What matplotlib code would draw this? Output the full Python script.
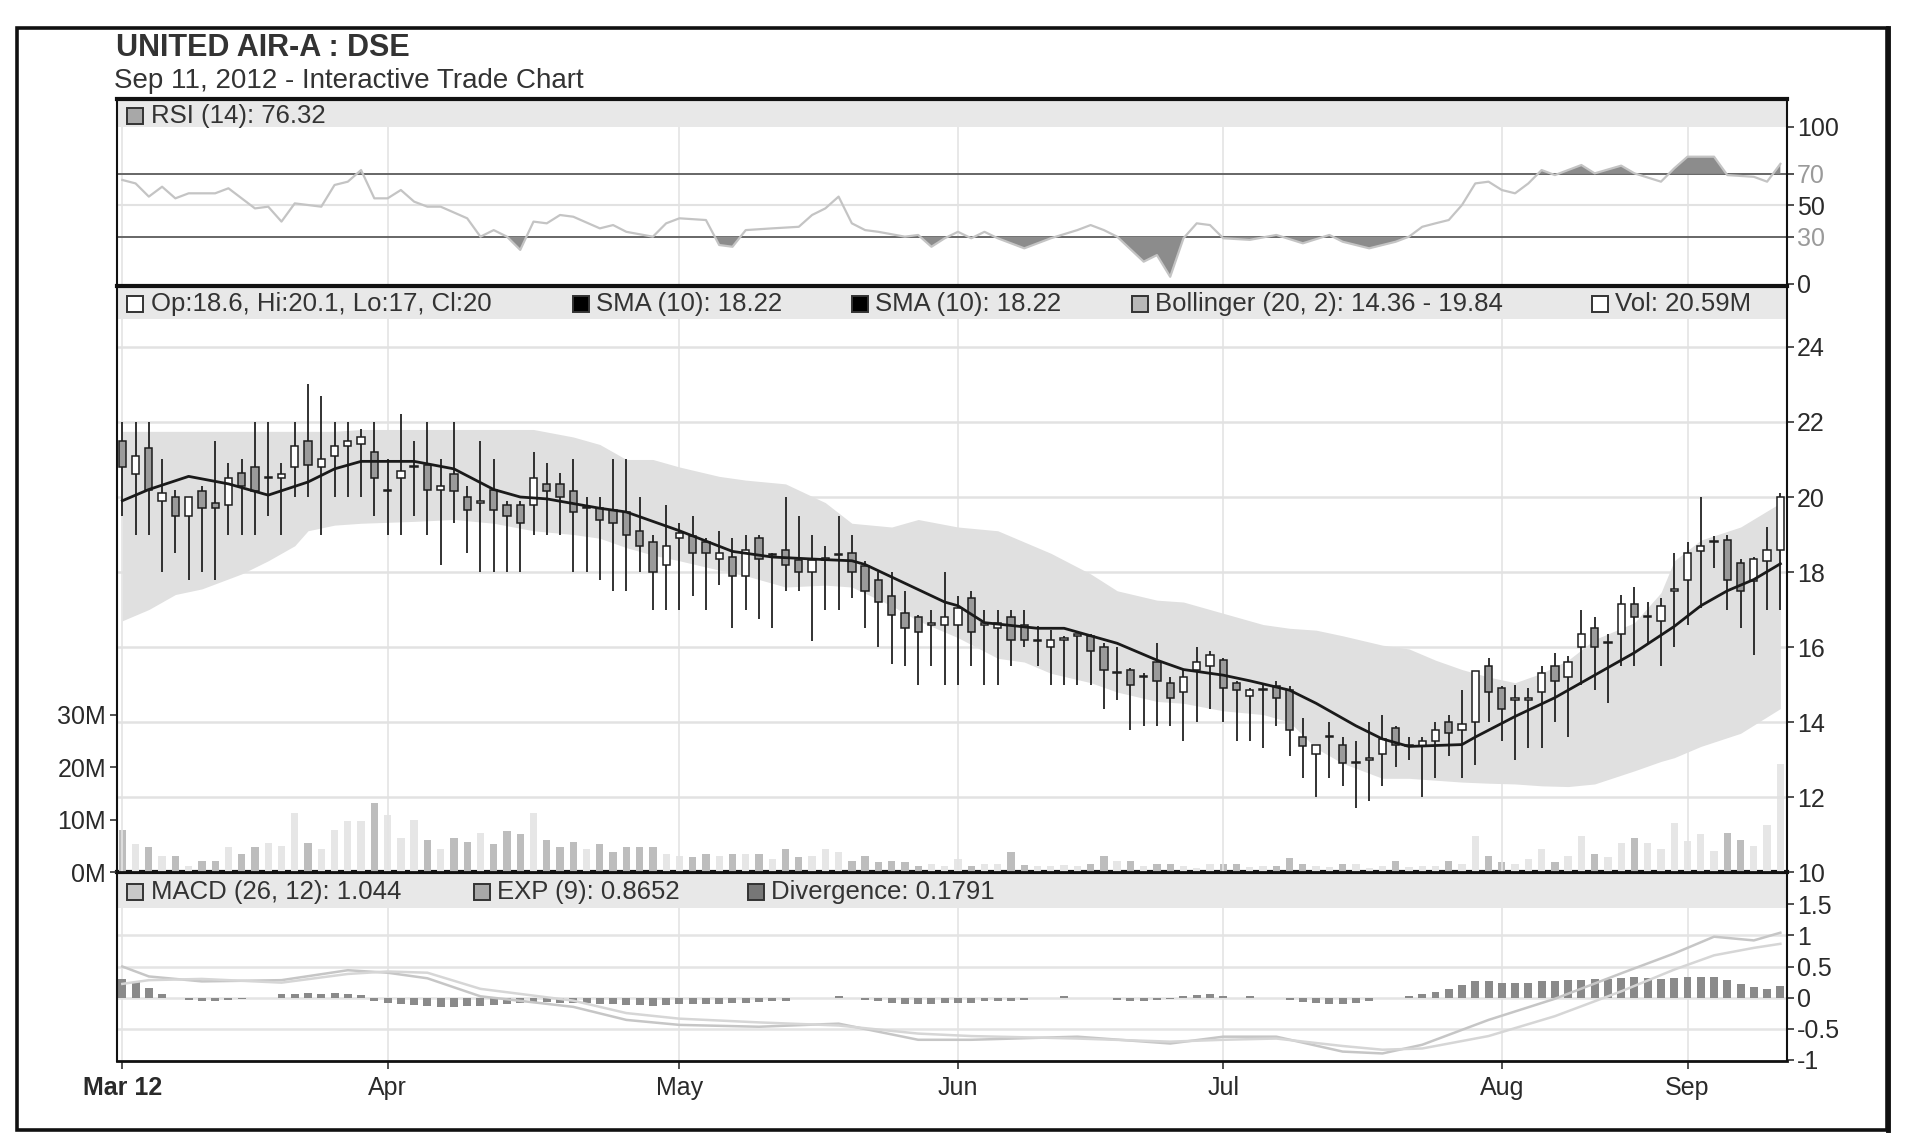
import numpy as np
import matplotlib
matplotlib.use('Agg')
import matplotlib.pyplot as plt
from matplotlib.patches import Rectangle
from matplotlib.lines import Line2D

plt.rcParams['font.family'] = ['Liberation Sans', 'DejaVu Sans']

# ---------------- data ----------------
opens = [21.5, 20.6, 21.3, 19.9, 20.0, 19.5, 20.15, 19.85, 19.8, 20.65,
         20.8, 20.5, 20.5, 20.8, 21.5, 20.8, 21.1, 21.35, 21.4, 21.2,
         20.15, 20.5, 20.8, 20.85, 20.2, 20.6, 20.0, 19.85, 20.2, 19.8,
         19.8, 19.8, 20.35, 20.35, 20.15, 19.7, 19.7, 19.65, 19.6, 19.1,
         18.8, 18.2, 18.9, 18.95, 18.8, 18.35, 18.4, 17.9, 18.9, 18.45,
         18.6, 18.33, 18.0, 18.33, 18.45, 18.5, 18.15, 17.8, 17.35, 16.9,
         16.8, 16.6, 16.6, 16.6, 17.3, 16.6, 16.5, 16.8, 16.6, 16.15,
         16.0, 16.2, 16.3, 16.3, 16.0, 15.3, 15.4, 15.2, 15.6, 15.05,
         14.8, 15.4, 15.5, 15.65, 15.05, 14.7, 14.85, 14.95, 14.85, 13.6,
         13.15, 13.6, 13.4, 12.9, 13.0, 13.15, 13.85, 13.35, 13.35, 13.5,
         14.0, 13.8, 14.0, 15.5, 14.9, 14.6, 14.6, 14.8, 15.5, 15.2,
         16.0, 16.5, 16.1, 16.35, 17.15, 16.8, 16.7, 17.5, 17.8, 18.55,
         18.8, 18.85, 18.25, 17.75, 18.3, 18.6]
highs = [22.0, 22.0, 22.0, 21.0, 20.2, 20.0, 20.3, 21.5, 20.9, 21.0,
         22.0, 22.0, 20.9, 22.0, 23.0, 22.7, 22.0, 22.0, 21.8, 22.0,
         21.0, 22.2, 21.5, 22.0, 21.0, 22.0, 20.3, 21.5, 21.0, 19.9,
         19.9, 21.2, 20.9, 20.65, 21.0, 20.0, 20.0, 21.0, 21.0, 20.0,
         19.0, 19.8, 19.3, 19.5, 18.9, 19.1, 18.9, 19.0, 19.0, 18.5,
         20.0, 19.5, 19.0, 18.7, 19.5, 19.0, 18.3, 18.0, 18.0, 17.5,
         16.85, 17.0, 18.0, 17.35, 17.5, 17.0, 17.0, 17.0, 17.0, 16.55,
         16.45, 16.3, 16.35, 16.35, 16.1, 16.0, 15.45, 15.3, 16.1, 15.2,
         15.4, 16.0, 15.9, 15.7, 15.1, 14.9, 15.0, 15.1, 14.95, 14.1,
         13.4, 14.0, 13.6, 13.5, 14.0, 14.2, 13.9, 13.6, 13.6, 14.0,
         14.2, 14.85, 15.35, 15.7, 14.95, 15.0, 14.9, 15.5, 15.85, 15.75,
         17.0, 16.8, 16.35, 17.4, 17.6, 17.2, 17.3, 18.5, 18.8, 20.0,
         18.95, 19.0, 18.35, 18.4, 19.2, 20.1]
lows = [19.5, 19.0, 19.0, 18.0, 18.5, 17.8, 18.0, 17.8, 19.0, 19.0,
        19.0, 19.5, 19.0, 20.0, 20.0, 19.0, 20.0, 20.0, 20.0, 19.5,
        19.0, 19.0, 19.5, 19.0, 18.2, 19.3, 18.5, 18.0, 18.0, 18.0,
        18.0, 19.0, 19.0, 19.0, 18.0, 18.0, 17.8, 17.5, 17.5, 18.0,
        17.0, 17.0, 17.0, 17.35, 17.0, 17.65, 16.5, 17.0, 16.75, 16.5,
        17.5, 17.5, 16.15, 17.0, 17.0, 17.3, 16.5, 16.0, 15.55, 15.5,
        15.0, 15.5, 15.0, 15.0, 15.5, 15.0, 15.0, 15.5, 16.0, 15.5,
        15.0, 15.0, 15.0, 15.0, 14.35, 14.6, 13.8, 13.9, 13.9, 13.9,
        13.5, 14.0, 14.35, 14.0, 13.5, 13.5, 13.3, 13.9, 13.1, 12.5,
        12.0, 12.5, 12.3, 11.7, 11.9, 12.3, 12.8, 13.0, 12.0, 12.5,
        13.1, 12.5, 12.85, 14.0, 13.5, 13.0, 13.3, 13.3, 14.0, 13.6,
        15.0, 14.85, 14.5, 15.5, 15.5, 16.1, 15.5, 16.0, 16.6, 17.05,
        18.1, 17.0, 16.5, 15.8, 17.0, 17.0]
closes = [20.8, 21.1, 20.2, 20.1, 19.5, 20.0, 19.7, 19.7, 20.5, 20.3,
          20.15, 20.5, 20.6, 21.35, 20.85, 21.0, 21.35, 21.5, 21.6, 20.5,
          20.15, 20.7, 20.8, 20.2, 20.3, 20.15, 19.65, 19.85, 19.65, 19.5,
          19.3, 20.5, 20.15, 20.0, 19.6, 19.7, 19.4, 19.3, 19.0, 18.7,
          18.0, 18.7, 19.05, 18.5, 18.5, 18.5, 17.9, 18.6, 18.35, 18.45,
          18.2, 18.0, 18.33, 18.33, 18.45, 18.0, 17.5, 17.2, 16.85, 16.5,
          16.4, 16.6, 16.8, 17.05, 16.4, 16.6, 16.65, 16.2, 16.2, 16.15,
          16.2, 16.2, 16.3, 15.9, 15.4, 15.3, 15.0, 15.2, 15.1, 14.65,
          15.2, 15.6, 15.8, 14.9, 14.85, 14.85, 14.85, 14.65, 13.8, 13.35,
          13.4, 13.6, 12.9, 12.9, 13.0, 13.55, 13.4, 13.35, 13.5, 13.8,
          13.7, 13.95, 15.35, 14.8, 14.35, 14.6, 14.6, 15.3, 15.1, 15.6,
          16.35, 16.0, 16.1, 17.15, 16.8, 16.8, 17.1, 17.5, 18.5, 18.7,
          18.8, 17.8, 17.5, 18.35, 18.6, 20.0]
volume_m = [8.1, 5.3, 4.7, 3.1, 3.1, 1.2, 2.2, 2.2, 4.7, 3.4,
            4.7, 5.6, 5.0, 11.2, 5.6, 4.4, 8.1, 9.7, 9.7, 13.1,
            10.9, 6.6, 10.0, 6.2, 4.4, 6.6, 5.7, 7.5, 5.3, 7.8,
            7.3, 11.2, 6.2, 4.7, 5.7, 4.4, 5.3, 3.9, 4.7, 4.7,
            4.7, 3.4, 3.1, 2.8, 3.4, 3.1, 3.4, 3.4, 3.4, 2.5,
            4.4, 2.8, 3.1, 4.4, 3.8, 2.2, 3.1, 1.9, 2.2, 1.9,
            1.2, 1.6, 1.2, 2.5, 1.2, 1.6, 1.6, 3.8, 1.4, 1.2,
            1.2, 1.4, 1.2, 1.6, 3.1, 2.2, 2.2, 1.2, 1.6, 1.6,
            1.2, 0.8, 1.6, 1.6, 1.6, 1.0, 1.2, 1.2, 2.6, 1.6,
            1.2, 1.0, 1.6, 1.6, 0.8, 1.2, 2.2, 1.0, 1.2, 1.2,
            2.2, 1.6, 6.9, 3.1, 1.9, 1.6, 2.5, 4.4, 2.0, 3.0,
            6.9, 3.4, 2.8, 5.5, 6.6, 5.6, 4.5, 9.4, 6.0, 7.2,
            4.0, 7.5, 6.2, 5.0, 9.0, 20.6]

sma_day = [0, 2, 5, 8, 11, 14, 16, 18, 22, 25, 28, 30, 32, 36, 38, 42, 46, 49,
           53, 55, 56, 59, 62, 63, 65, 69, 71, 73, 75, 78, 80, 83, 85, 88, 90,
           93, 95, 97, 101, 102, 105, 108, 111, 114, 117, 119, 121, 123, 125]
sma_val = [19.9, 20.2, 20.55, 20.35, 20.05, 20.4, 20.75, 20.95, 20.95, 20.75,
           20.2, 20.0, 19.95, 19.7, 19.6, 19.1, 18.55, 18.4, 18.33, 18.3, 18.2,
           17.7, 17.2, 17.1, 16.65, 16.5, 16.5, 16.3, 16.1, 15.65, 15.4, 15.25,
           15.1, 14.85, 14.5, 13.9, 13.55, 13.35, 13.4, 13.6, 14.15, 14.65,
           15.25, 15.85, 16.55, 17.1, 17.5, 17.8, 18.22]

bb_day = [0, 2, 4, 6, 9, 11, 13, 14, 16, 18, 22, 25, 28, 31, 34, 36, 38, 40, 42,
          45, 47, 50, 53, 55, 58, 60, 63, 66, 68, 70, 73, 75, 78, 80, 83, 86, 88,
          90, 92, 95, 97, 99, 101, 103, 105, 107, 109, 111, 114, 116, 117, 119,
          122, 125]
bb_upper = [21.75, 21.75, 21.75, 21.75, 21.75, 21.75, 21.75, 21.75, 21.75, 21.8,
            21.8, 21.8, 21.8, 21.8, 21.6, 21.4, 21.0, 21.0, 20.8, 20.55, 20.45,
            20.35, 19.85, 19.3, 19.2, 19.4, 19.2, 19.1, 18.8, 18.5, 17.95, 17.5,
            17.25, 17.2, 16.9, 16.6, 16.5, 16.45, 16.3, 16.05, 15.95, 15.65,
            15.4, 15.2, 15.05, 15.3, 15.65, 16.2, 16.65, 17.45, 18.3, 18.85,
            19.2, 19.84]
bb_lower = [16.7, 17.0, 17.4, 17.55, 17.95, 18.3, 18.7, 19.1, 19.25, 19.3,
            19.35, 19.4, 19.3, 19.1, 19.0, 18.9, 18.65, 18.45, 18.3, 18.05, 17.9,
            17.6, 17.65, 17.6, 17.1, 16.7, 16.25, 15.7, 15.6, 15.3, 15.05, 14.8,
            14.55, 14.5, 14.3, 14.2, 14.0, 13.3, 12.9, 12.5, 12.5, 12.45, 12.4,
            12.37, 12.35, 12.3, 12.28, 12.35, 12.7, 12.95, 13.05, 13.35, 13.7,
            14.36]

rsi_day = [0, 1, 2, 3, 4, 5, 7, 8, 10, 11, 12, 13, 15, 16, 17, 18, 19, 20, 21,
           22, 23, 24, 26, 27, 28, 29, 30, 31, 32, 33, 34, 36, 37, 38, 40, 41,
           42, 44, 45, 46, 47, 49, 51, 52, 53, 54, 55, 56, 57, 59, 60, 61, 62,
           63, 64, 65, 66, 68, 70, 72, 73, 74, 75,
           77, 78, 79, 80, 81, 82, 83, 85, 87, 89, 91, 92, 94, 96, 97, 98,
           99, 100, 101, 102, 103, 104, 105, 106, 107, 108,
           110, 111, 113, 114, 116, 117, 118, 120, 121, 123, 124, 125]
rsi_val = [66.1, 63.9, 55.5, 61.8, 54.4, 57.6, 57.6, 60.8, 48.0, 49.1, 39.6,
           51.2, 49.1, 62.9, 65.0, 72.4, 54.4, 54.4, 59.7, 52.3, 49.1, 49.1,
           41.7, 30.0, 34.2, 30.0, 21.6, 39.6, 38.5, 43.8, 42.7, 35.3, 37.4,
           33.1, 30.0, 38.5, 41.7, 40.6, 24.7, 23.6, 34.2, 35.3, 36.3, 43.8,
           48.0, 55.5, 38.5, 34.2, 33.1, 30.0, 31.1, 23.6, 29.0, 33.1, 29.0,
           33.1, 29.0, 22.6, 29.0, 34.2, 37.4, 34.2, 30.0,
           14.1, 18.3, 4.5, 29.0, 38.5, 37.4, 29.0, 28.0, 31.1, 25.8, 31.1,
           26.8, 22.6, 26.8, 30.0, 36.3,
           38.5, 40.6, 50.2, 63.9, 65.0, 59.7, 57.6, 63.9, 72.4, 69.2,
           75.6, 70.3, 75.2, 70.3, 65.0, 73.5, 80.9, 80.9, 69.2, 68.1, 65.0, 76.32]

macd_day = [0, 2, 6, 12, 17, 20, 23, 27, 34, 38, 42, 48, 54, 60, 64, 72, 79, 83,
            87, 92, 95, 98, 103, 108, 113, 117, 120, 123, 125]
macd_val = [0.50, 0.34, 0.26, 0.28, 0.44, 0.40, 0.31, 0.02, -0.15, -0.36, -0.44,
            -0.47, -0.42, -0.68, -0.68, -0.63, -0.74, -0.63, -0.63, -0.87, -0.90,
            -0.76, -0.36, -0.02, 0.39, 0.71, 0.98, 0.92, 1.044]
signal_val = [0.22, 0.28, 0.30, 0.24, 0.38, 0.42, 0.40, 0.14, -0.05, -0.25,
              -0.34, -0.40, -0.45, -0.58, -0.62, -0.66, -0.71, -0.68, -0.66,
              -0.78, -0.84, -0.82, -0.62, -0.30, 0.10, 0.45, 0.68, 0.80, 0.8652]
divergence = [0.30, 0.25, 0.15, 0.05, 0.0, -0.04, -0.05, -0.05, -0.04, -0.03,
              0.0, 0.0, 0.05, 0.06, 0.07, 0.06, 0.07, 0.05, 0.04, -0.06,
              -0.08, -0.10, -0.12, -0.14, -0.15, -0.15, -0.14, -0.13, -0.12, -0.10,
              -0.08, -0.07, -0.07, -0.08, -0.08, -0.09, -0.10, -0.11, -0.12, -0.12,
              -0.13, -0.12, -0.11, -0.10, -0.10, -0.10, -0.09, -0.08, -0.07, -0.06,
              -0.05, 0.0, 0.0, 0.0, 0.03, 0.0, -0.04, -0.06, -0.08, -0.10,
              -0.11, -0.10, -0.09, -0.08, -0.08, -0.06, -0.05, -0.05, -0.04, 0.0,
              0.0, 0.03, 0.0, 0.0, 0.0, -0.04, -0.05, -0.05, -0.04, -0.02,
              0.03, 0.04, 0.05, 0.03, 0.0, 0.03, 0.0, 0.0, -0.04, -0.07,
              -0.09, -0.10, -0.10, -0.09, -0.06, 0.0, 0.0, 0.02, 0.05, 0.09,
              0.14, 0.20, 0.27, 0.26, 0.24, 0.23, 0.24, 0.26, 0.27, 0.28,
              0.29, 0.30, 0.30, 0.31, 0.33, 0.32, 0.30, 0.31, 0.33, 0.33,
              0.33, 0.28, 0.22, 0.17, 0.14, 0.18]

month_day = [0, 20, 42, 63, 83, 104, 118]
month_lbl = ['Mar 12', 'Apr', 'May', 'Jun', 'Jul', 'Aug', 'Sep']

price_ticks = [10, 12, 14, 16, 18, 20, 22, 24]
vol_ticks = [0, 10, 20, 30]
rsi_ticks = [0, 30, 50, 70, 100]
macd_ticks = [-1, -0.5, 0, 0.5, 1, 1.5]
macd_tick_lbl = ['-1', '-0.5', '0', '0.5', '1', '1.5']

# ---------------- layout ----------------
W, H = 1910, 1133
fig = plt.figure(figsize=(W / 100, H / 100), dpi=100)
fig.patch.set_facecolor('white')

L, R = 117, 1787


def rect(top, bottom):
    return [L / W, 1 - bottom / H, (R - L) / W, (bottom - top) / H]


ax_rsi = fig.add_axes(rect(98.7, 286.2))
ax_vol = fig.add_axes(rect(286.2, 872.1))
ax_main = fig.add_axes(rect(286.2, 872.1))
ax_macd = fig.add_axes(rect(872.1, 1060.9))

XL = (-0.4, 125.5)
TXT = '#2a2a2a'
FS_TICK = 18
FS_HEAD = 18.5

for ax in (ax_rsi, ax_vol, ax_main, ax_macd):
    ax.set_xlim(*XL)

for ax in (ax_rsi, ax_main, ax_macd):
    for d in month_day:
        ax.axvline(d, color='#e4e4e4', lw=1.2, zorder=0.5)
    for s in ('left', 'right'):
        ax.spines[s].set_color('#111')
        ax.spines[s].set_linewidth(1.5)
    ax.spines['top'].set_color('#111')
    ax.spines['top'].set_linewidth(3.0)
    ax.spines['bottom'].set_color('#111')
    ax.spines['bottom'].set_linewidth(2.0)
    ax.yaxis.tick_right()
    ax.tick_params(axis='y', which='both', direction='out', length=5, width=1.2,
                   color='#333', labelsize=FS_TICK, labelcolor=TXT, pad=2)
    ax.set_xticks([])

# ---------- RSI panel ----------
ax_rsi.set_ylim(-1.5, 117.8)
ax_rsi.axhspan(99.5, 117.8, color='#e8e8e8', zorder=1, lw=0)
ax_rsi.axhline(50, color='#e2e2e2', lw=1.5, zorder=0.6)
ax_rsi.axhline(70, color='#666666', lw=1.4, zorder=2)
ax_rsi.axhline(30, color='#666666', lw=1.4, zorder=2)
rd = np.array(rsi_day, dtype=float)
rv = np.array(rsi_val)
ax_rsi.fill_between(rd, rv, 70, where=rv > 70, interpolate=True,
                    color='#8c8c8c', lw=0, zorder=2.5)
ax_rsi.fill_between(rd, rv, 30, where=rv < 30, interpolate=True,
                    color='#8c8c8c', lw=0, zorder=2.5)
ax_rsi.plot(rd, rv, color='#c4c4c4', lw=1.6, zorder=3)
ax_rsi.set_yticks(rsi_ticks)
ax_rsi.set_yticklabels([str(t) for t in rsi_ticks])
for lbl, t in zip(ax_rsi.get_yticklabels(), rsi_ticks):
    if t in (30, 70):
        lbl.set_color('#9a9a9a')

# ---------- Volume (behind price) ----------
days = np.arange(len(opens))
o = np.array(opens)
c = np.array(closes)
h = np.array(highs)
lo = np.array(lows)
up = c >= o
vol = np.array(volume_m)
ax_vol.set_ylim(0, 111.8)
ax_vol.bar(days[~up], vol[~up], width=0.55, color='#bdbdbd', lw=0, zorder=2)
ax_vol.bar(days[up], vol[up], width=0.55, color='#e6e6e6', lw=0, zorder=2)
ax_vol.yaxis.tick_left()
ax_vol.set_yticks(vol_ticks)
ax_vol.set_yticklabels([f'{t}M' for t in vol_ticks])
ax_vol.tick_params(axis='y', direction='out', length=5, width=1.2, color='#333',
                   labelsize=FS_TICK, labelcolor=TXT, pad=3)
ax_vol.set_xticks([])
for s in ax_vol.spines.values():
    s.set_visible(False)
ax_vol.patch.set_visible(False)
ax_vol.set_zorder(1)

# ---------- Main price panel ----------
ax_main.set_zorder(2)
ax_main.patch.set_visible(False)
ax_main.set_ylim(10, 25.62)
for t in price_ticks[1:]:
    ax_main.axhline(t, color='#e2e2e2', lw=1.8, zorder=0.6)
ax_main.axhspan(24.75, 25.62, color='#e8e8e8', zorder=1, lw=0)
ax_main.fill_between(bb_day, bb_lower, bb_upper, color='#e0e0e0', lw=0, zorder=1.5)
ax_main.plot(sma_day, sma_val, color='#1a1a1a', lw=2.0, zorder=5)
ax_main.vlines(days, lo, h, color='#222222', lw=1.3, zorder=3)
body_bot = np.minimum(o, c)
body_h = np.maximum(np.abs(c - o), 0.035)
ax_main.bar(days[up], body_h[up], bottom=body_bot[up], width=0.55, color='white',
            edgecolor='#1e1e1e', lw=1.1, zorder=4)
ax_main.bar(days[~up], body_h[~up], bottom=body_bot[~up], width=0.55,
            color='#9a9a9a', edgecolor='#1e1e1e', lw=1.1, zorder=4)
ax_main.set_yticks(price_ticks)
ax_main.set_yticklabels([str(t) for t in price_ticks])

# ---------- MACD panel ----------
ax_macd.set_ylim(-1.02, 2.02)
for t in (-0.5, 0, 0.5, 1):
    ax_macd.axhline(t, color='#e4e4e4', lw=1.8, zorder=0.6)
ax_macd.axhspan(1.45, 2.02, color='#e8e8e8', zorder=1, lw=0)
ax_macd.bar(days, divergence, width=0.6, color='#8a8a8a', lw=0, zorder=2)
ax_macd.plot(macd_day, macd_val, color='#c6c6c6', lw=1.8, zorder=3)
ax_macd.plot(macd_day, signal_val, color='#d6d6d6', lw=1.8, zorder=3)
ax_macd.set_yticks(macd_ticks)
ax_macd.set_yticklabels(macd_tick_lbl)
ax_macd.set_xticks(month_day)
ax_macd.set_xticklabels(month_lbl)
ax_macd.tick_params(axis='x', direction='out', length=6, width=1.2, color='#333',
                    labelsize=FS_TICK, labelcolor=TXT, pad=5)
ax_macd.get_xticklabels()[0].set_fontweight('bold')


# ---------- header legends ----------
def head(ax, xs, xt, y, fc, text):
    ax.plot([xs], [y], marker='s', ms=11, mfc=fc, mec='#333', mew=1.4,
            transform=ax.transAxes, clip_on=False, zorder=10)
    ax.text(xt, y, text, transform=ax.transAxes, fontsize=FS_HEAD, color='#333',
            va='center', ha='left', zorder=10)


head(ax_rsi, 0.0108, 0.0205, 0.909, '#a8a8a8', 'RSI (14): 76.32')
ym = 0.969
head(ax_main, 0.0108, 0.0205, ym, 'white', 'Op:18.6, Hi:20.1, Lo:17, Cl:20')
head(ax_main, 0.2778, 0.2870, ym, 'black', 'SMA (10): 18.22')
head(ax_main, 0.4449, 0.4541, ym, 'black', 'SMA (10): 18.22')
head(ax_main, 0.6126, 0.6218, ym, '#b8b8b8', 'Bollinger (20, 2): 14.36 - 19.84')
head(ax_main, 0.8880, 0.8972, ym, 'white', 'Vol: 20.59M')
yc = 0.897
head(ax_macd, 0.0108, 0.0205, yc, '#c8c8c8', 'MACD (26, 12): 1.044')
head(ax_macd, 0.2186, 0.2278, yc, '#a8a8a8', 'EXP (9): 0.8652')
head(ax_macd, 0.3826, 0.3918, yc, '#777777', 'Divergence: 0.1791')

# ---------- titles ----------
fig.text(116 / W, 1 - 56 / H, 'UNITED AIR-A : DSE', fontsize=22, fontweight='bold',
         color='#333', ha='left', va='baseline')
fig.text(114 / W, 1 - 88 / H, 'Sep 11, 2012 - Interactive Trade Chart', fontsize=20,
         color='#333', ha='left', va='baseline')

# ---------- outer frame ----------
fig.patches.append(Rectangle((17 / W, 1 - 1130 / H), (1887 - 17) / W, (1130 - 28) / H,
                             transform=fig.transFigure, fill=False, ec='#111', lw=2.6))
fig.lines.append(Line2D([1888 / W, 1888 / W], [1 - 1130 / H, 1 - 28 / H],
                        transform=fig.transFigure, color='#111', lw=3.5))

fig.savefig('out.png', dpi=100, facecolor='white')
